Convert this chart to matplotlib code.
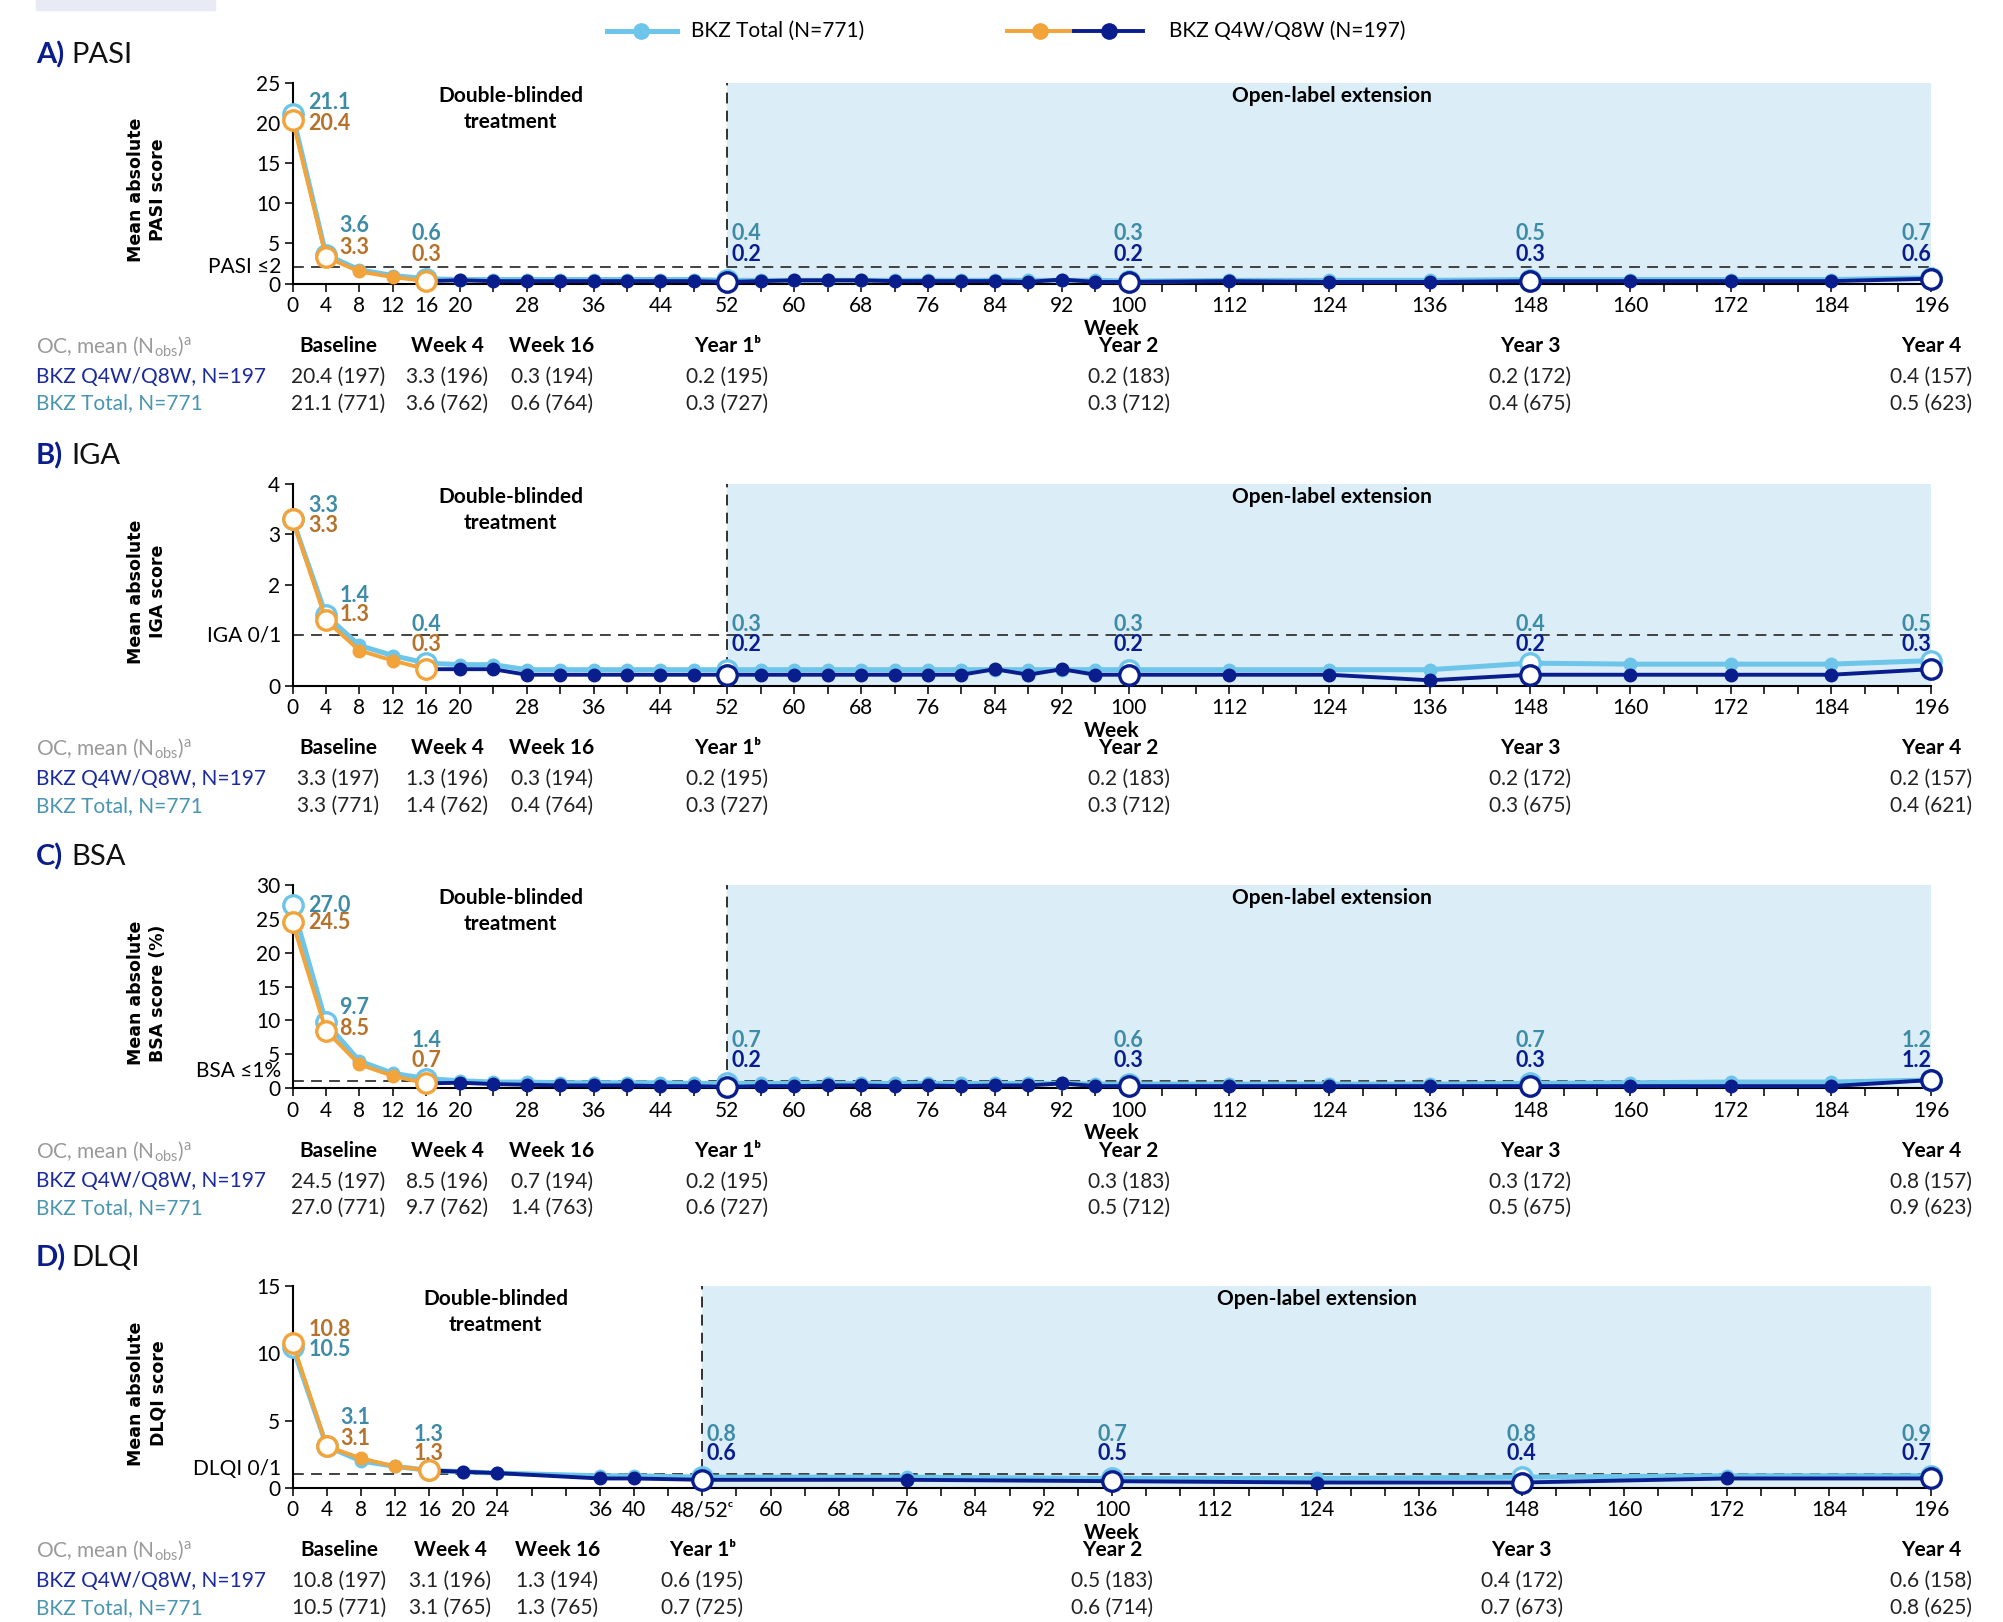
import matplotlib
matplotlib.use("Agg")
import matplotlib.pyplot as plt
from matplotlib import font_manager
from matplotlib.lines import Line2D
from matplotlib.patches import Rectangle
from matplotlib.transforms import blended_transform_factory

# layout was measured on a 1568x1270 copy of the figure
SX, SY = 1568.0, 1270.0

installed = {f.name for f in font_manager.fontManager.ttflist}
BASE = "Lato" if "Lato" in installed else "Liberation Sans"
plt.rcParams["font.family"] = [BASE, "DejaVu Sans"]
plt.rcParams["mathtext.default"] = "regular"

LIGHT = "#6ec5ea"
ORANGE = "#f2a33a"
NAVY = "#0a1d8c"
TEAL_TXT = "#3e8ba6"
ORANGE_TXT = "#b5722b"
SHADE = "#dbeef8"
ROW_NAVY = "#1b2a9c"
ROW_TEAL = "#4a95b0"

# ---------------- data ----------------
WEEKS = [0, 4, 8, 12, 16, 20, 24, 28, 32, 36, 40, 44, 48, 52, 56, 60, 64, 68, 72,
         76, 80, 84, 88, 92, 96, 100, 112, 124, 136, 148, 160, 172, 184, 196]
DLQI_WEEKS = [0, 4, 8, 12, 16, 20, 24, 36, 40, 52, 76, 100, 124, 148, 172, 196]
KEY_WEEKS = [0, 4, 16, 52, 100, 148, 196]

PASI_Q4W = [20.4, 3.3, 1.5, 0.8, 0.3, 0.4, 0.3, 0.3, 0.3, 0.3, 0.3, 0.3, 0.3, 0.2, 0.3, 0.4, 0.4,
            0.4, 0.3, 0.3, 0.3, 0.3, 0.2, 0.5, 0.2, 0.2, 0.3, 0.2, 0.2, 0.3, 0.3, 0.3, 0.3, 0.6]
PASI_TOTAL = [21.1, 3.6, 1.7, 1.0, 0.6, 0.5, 0.5, 0.5, 0.5, 0.5, 0.5, 0.5, 0.5, 0.4, 0.4, 0.4, 0.4,
              0.4, 0.4, 0.4, 0.4, 0.4, 0.4, 0.4, 0.4, 0.3, 0.4, 0.4, 0.4, 0.5, 0.5, 0.5, 0.5, 0.7]
IGA_Q4W = [3.3, 1.3, 0.7, 0.5, 0.33, 0.33, 0.33, 0.22, 0.22, 0.22, 0.22, 0.22, 0.22, 0.22, 0.22, 0.22, 0.22,
           0.22, 0.22, 0.22, 0.22, 0.33, 0.22, 0.33, 0.22, 0.22, 0.22, 0.22, 0.11, 0.22, 0.22, 0.22, 0.22, 0.33]
IGA_TOTAL = [3.3, 1.4, 0.8, 0.6, 0.45, 0.42, 0.42, 0.32, 0.32, 0.32, 0.32, 0.32, 0.32, 0.32, 0.32, 0.32, 0.32,
             0.32, 0.32, 0.32, 0.32, 0.32, 0.32, 0.32, 0.32, 0.32, 0.32, 0.32, 0.32, 0.45, 0.43, 0.43, 0.43, 0.5]
BSA_Q4W = [24.5, 8.5, 3.5, 1.8, 0.7, 0.8, 0.6, 0.5, 0.4, 0.4, 0.4, 0.3, 0.3, 0.2, 0.3, 0.3, 0.4,
           0.4, 0.3, 0.4, 0.3, 0.4, 0.4, 0.7, 0.3, 0.3, 0.3, 0.3, 0.3, 0.3, 0.3, 0.3, 0.3, 1.2]
BSA_TOTAL = [27.0, 9.7, 4.0, 2.2, 1.4, 1.1, 0.9, 0.9, 0.8, 0.8, 0.8, 0.8, 0.7, 0.7, 0.7, 0.7, 0.7,
             0.7, 0.7, 0.7, 0.7, 0.7, 0.7, 0.7, 0.6, 0.6, 0.6, 0.6, 0.6, 0.7, 0.8, 0.9, 0.9, 1.2]
DLQI_Q4W = [10.8, 3.1, 2.2, 1.6, 1.3, 1.2, 1.1, 0.7, 0.7, 0.6, 0.6, 0.5, 0.4, 0.4, 0.7, 0.7]
DLQI_TOTAL = [10.5, 3.1, 2.0, 1.6, 1.3, 1.2, 1.1, 0.9, 0.9, 0.8, 0.8, 0.7, 0.7, 0.8, 0.9, 0.9]

# value labels at KEY_WEEKS
PASI_LAB_TOT = ["21.1", "3.6", "0.6", "0.4", "0.3", "0.5", "0.7"]
PASI_LAB_Q = ["20.4", "3.3", "0.3", "0.2", "0.2", "0.3", "0.6"]
IGA_LAB_TOT = ["3.3", "1.4", "0.4", "0.3", "0.3", "0.4", "0.5"]
IGA_LAB_Q = ["3.3", "1.3", "0.3", "0.2", "0.2", "0.2", "0.3"]
BSA_LAB_TOT = ["27.0", "9.7", "1.4", "0.7", "0.6", "0.7", "1.2"]
BSA_LAB_Q = ["24.5", "8.5", "0.7", "0.2", "0.3", "0.3", "1.2"]
DLQI_LAB_TOT = ["10.5", "3.1", "1.3", "0.8", "0.7", "0.8", "0.9"]
DLQI_LAB_Q = ["10.8", "3.1", "1.3", "0.6", "0.5", "0.4", "0.7"]

# table under each panel
TABLE_HEAD = ["Baseline", "Week 4", "Week 16", "Year 1ᵇ", "Year 2", "Year 3", "Year 4"]
PASI_TAB_Q = ["20.4 (197)", "3.3 (196)", "0.3 (194)", "0.2 (195)", "0.2 (183)", "0.2 (172)", "0.4 (157)"]
PASI_TAB_T = ["21.1 (771)", "3.6 (762)", "0.6 (764)", "0.3 (727)", "0.3 (712)", "0.4 (675)", "0.5 (623)"]
IGA_TAB_Q = ["3.3 (197)", "1.3 (196)", "0.3 (194)", "0.2 (195)", "0.2 (183)", "0.2 (172)", "0.2 (157)"]
IGA_TAB_T = ["3.3 (771)", "1.4 (762)", "0.4 (764)", "0.3 (727)", "0.3 (712)", "0.3 (675)", "0.4 (621)"]
BSA_TAB_Q = ["24.5 (197)", "8.5 (196)", "0.7 (194)", "0.2 (195)", "0.3 (183)", "0.3 (172)", "0.8 (157)"]
BSA_TAB_T = ["27.0 (771)", "9.7 (762)", "1.4 (763)", "0.6 (727)", "0.5 (712)", "0.5 (675)", "0.9 (623)"]
DLQI_TAB_Q = ["10.8 (197)", "3.1 (196)", "1.3 (194)", "0.6 (195)", "0.5 (183)", "0.4 (172)", "0.6 (158)"]
DLQI_TAB_T = ["10.5 (771)", "3.1 (765)", "1.3 (765)", "0.7 (725)", "0.6 (714)", "0.7 (673)", "0.8 (625)"]

XLABEL_WEEKS = [0, 4, 8, 12, 16, 20, 28, 36, 44, 52, 60, 68, 76, 84, 92, 100,
                112, 124, 136, 148, 160, 172, 184, 196]
DLQI_XLABEL_WEEKS = [0, 4, 8, 12, 16, 20, 24, 36, 40, 52, 60, 68, 76, 84, 92, 100,
                     112, 124, 136, 148, 160, 172, 184, 196]


def fx(x):
    return x / SX


def fy(y):
    return 1 - y / SY


def plain_pos(w):
    return w


def dlqi_pos(w):
    # weeks 48 and 52 share one slot on the DLQI axis
    return w if w <= 48 else w - 4


def draw_panel(fig, top, bottom, letter, name, ylab, weeks, q4w, total, pos,
               ymax, yticks, thr, thr_label, thr_dy, xlab_weeks, lab_t, lab_q,
               fr0, fr4, frr, orange_first, tab_q, tab_t, db_x, ol_x):
    ax = fig.add_axes([fx(229), fy(bottom), (1512 - 229) / SX, (bottom - top) / SY])
    xmax = pos(196)
    xs = [pos(w) for w in weeks]
    ax.set_xlim(0, xmax)
    ax.set_ylim(0, ymax)

    # shaded open-label period and reference lines
    ax.axvspan(pos(52), xmax, color=SHADE, zorder=0, lw=0)
    ax.axvline(pos(52), color="#222222", lw=1.3, dashes=(6, 4), zorder=1)
    ax.axhline(thr, color="#333333", lw=1.3, dashes=(6, 4), zorder=1)

    key = [w in KEY_WEEKS for w in weeks]
    i16 = weeks.index(16)

    # BKZ Total
    ax.plot(xs, total, color=LIGHT, lw=3.6, zorder=3, clip_on=False)
    ax.plot([x for x, k in zip(xs, key) if not k], [v for v, k in zip(total, key) if not k],
            "o", color=LIGHT, ms=9, zorder=3, clip_on=False)
    ax.plot([x for x, k in zip(xs, key) if k], [v for v, k in zip(total, key) if k],
            "o", mfc="white", mec=LIGHT, mew=2.4, ms=14, zorder=3, clip_on=False)

    # BKZ Q4W/Q8W: navy after week 16
    nx, ny, nk = xs[i16:], q4w[i16:], key[i16:]
    ax.plot(nx, ny, color=NAVY, lw=2.8, zorder=5, clip_on=False)
    ax.plot([x for x, k in zip(nx, nk) if not k], [v for v, k in zip(ny, nk) if not k],
            "o", color=NAVY, ms=9, zorder=5, clip_on=False)
    ax.plot([x for x, k in zip(nx, nk) if k][1:], [v for v, k in zip(ny, nk) if k][1:],
            "o", mfc="white", mec=NAVY, mew=2.4, ms=14, zorder=5, clip_on=False)

    # orange up to week 16
    ox, oy, ok = xs[:i16 + 1], q4w[:i16 + 1], key[:i16 + 1]
    ax.plot(ox, oy, color=ORANGE, lw=2.8, zorder=6, clip_on=False)
    ax.plot([x for x, k in zip(ox, ok) if not k], [v for v, k in zip(oy, ok) if not k],
            "o", color=ORANGE, ms=9, zorder=6, clip_on=False)
    ax.plot([x for x, k in zip(ox, ok) if k], [v for v, k in zip(oy, ok) if k],
            "o", mfc="white", mec=ORANGE, mew=2.4, ms=14, zorder=6, clip_on=False)

    # value labels
    tr = blended_transform_factory(ax.transData, ax.transAxes)
    for i, wk in enumerate(KEY_WEEKS):
        x = pos(wk)
        if wk == 0:
            x, ha, fr = x + 1.9, "left", fr0
        elif wk == 4:
            x, ha, fr = x + 1.6, "left", fr4
        elif wk == 52:
            x, ha, fr = x + 0.5, "left", frr
        elif wk == 196:
            ha, fr = "right", frr
        else:
            ha, fr = "center", frr
        qcol = ORANGE_TXT if wk <= 16 else NAVY
        if wk == 0 and orange_first:
            first, second = (lab_q[i], qcol), (lab_t[i], TEAL_TXT)
        else:
            first, second = (lab_t[i], TEAL_TXT), (lab_q[i], qcol)
        ax.text(x, fr[0], first[0], color=first[1], ha=ha, va="center", fontsize=15.5,
                fontweight="bold", transform=tr, zorder=8)
        ax.text(x, fr[1], second[0], color=second[1], ha=ha, va="center", fontsize=15.5,
                fontweight="bold", transform=tr, zorder=8)

    # period annotations
    ax.text(db_x, 0.985, "Double-blinded\ntreatment", ha="center", va="top", fontsize=15,
            fontweight="bold", linespacing=1.35, transform=tr, zorder=8)
    ax.text(ol_x, 0.985, "Open-label extension", ha="center", va="top", fontsize=15,
            fontweight="bold", transform=tr, zorder=8)

    # axes styling
    for s in ["top", "right"]:
        ax.spines[s].set_visible(False)
    for s in ["left", "bottom"]:
        ax.spines[s].set_linewidth(1.5)
        ax.spines[s].set_zorder(2)
    ticks = list(range(0, int(xmax) + 1, 4))
    lab_pos = {pos(w): w for w in xlab_weeks}
    labels = []
    for t in ticks:
        if t in lab_pos:
            w = lab_pos[t]
            labels.append("48/52ᶜ" if (pos is dlqi_pos and w == 52) else str(w))
        else:
            labels.append("")
    ax.set_xticks(ticks)
    ax.set_xticklabels(labels)
    ax.set_yticks(yticks)
    ax.tick_params(axis="both", labelsize=15, length=6, width=1.3, pad=3, color="#222222")
    ax.set_xlabel("Week", fontsize=15, fontweight="bold", labelpad=2)

    ytr = blended_transform_factory(ax.transAxes, ax.transData)
    ax.text(-0.007, thr + thr_dy, thr_label, ha="right", va="center", fontsize=15, transform=ytr)

    # titles and y label
    fig.text(fx(28), fy(top - 22), letter, color=NAVY, fontsize=21, fontweight="bold", va="center")
    fig.text(fx(56), fy(top - 22), name, color="#111111", fontsize=21, va="center")
    fig.text(fx(115), fy((top + bottom) / 2 + 5), ylab, rotation=90, ha="center", va="center",
             family="DejaVu Sans", fontweight="bold", fontsize=12.5, linespacing=1.3)

    # summary table
    ttr = blended_transform_factory(ax.transData, fig.transFigure)
    cols = [5.5, 18.5, 31.0, pos(52), pos(100), pos(148), pos(196)]
    fig.text(fx(28), fy(bottom + 49), r"OC, mean (N$_{obs}$)$^{a}$", color="#9a9a9a",
             fontsize=15, va="center")
    fig.text(fx(28), fy(bottom + 73), "BKZ Q4W/Q8W, N=197", color=ROW_NAVY, fontsize=15, va="center")
    fig.text(fx(28), fy(bottom + 94), "BKZ Total, N=771", color=ROW_TEAL, fontsize=15, va="center")
    for c, h, q, t in zip(cols, TABLE_HEAD, tab_q, tab_t):
        fig.text(c, fy(bottom + 49), h, ha="center", va="center", fontsize=15,
                 fontweight="bold", transform=ttr)
        fig.text(c, fy(bottom + 73), q, ha="center", va="center", fontsize=15,
                 color="#222222", transform=ttr)
        fig.text(c, fy(bottom + 94), t, ha="center", va="center", fontsize=15,
                 color="#222222", transform=ttr)
    return ax


fig = plt.figure(figsize=(20.03, 16.22), dpi=100)

# small tab in the corner
fig.patches.append(Rectangle((fx(28), fy(8)), fx(168) - fx(28), 1 - fy(8),
                             transform=fig.transFigure, color="#e8eaf6", zorder=0))

# legend
ly = fy(24)
fig.add_artist(Line2D([fx(475), fx(530)], [ly, ly], color=LIGHT, lw=3.6, transform=fig.transFigure))
fig.add_artist(Line2D([fx(502)], [ly], marker="o", ms=11, color=LIGHT, transform=fig.transFigure))
fig.text(fx(541), ly, "BKZ Total (N=771)", fontsize=15, va="center")
fig.add_artist(Line2D([fx(788), fx(841)], [ly, ly], color=ORANGE, lw=2.8, transform=fig.transFigure))
fig.add_artist(Line2D([fx(841), fx(895)], [ly, ly], color=NAVY, lw=2.8, transform=fig.transFigure))
fig.add_artist(Line2D([fx(814)], [ly], marker="o", ms=11, color=ORANGE, transform=fig.transFigure))
fig.add_artist(Line2D([fx(868)], [ly], marker="o", ms=11, color=NAVY, transform=fig.transFigure))
fig.text(fx(915), ly, "BKZ Q4W/Q8W (N=197)", fontsize=15, va="center")

draw_panel(fig, 65, 222, "A)", "PASI", "Mean absolute\nPASI score", WEEKS, PASI_Q4W, PASI_TOTAL,
           plain_pos, 25, [0, 5, 10, 15, 20, 25], 2, "PASI ≤2", 0, XLABEL_WEEKS,
           PASI_LAB_TOT, PASI_LAB_Q, (0.904, 0.796), (0.287, 0.178), (0.248, 0.146), False,
           PASI_TAB_Q, PASI_TAB_T, 26.1, 124.3)
draw_panel(fig, 379, 537, "B)", "IGA", "Mean absolute\nIGA score", WEEKS, IGA_Q4W, IGA_TOTAL,
           plain_pos, 4, [0, 2, 3, 4], 1, "IGA 0/1", 0, XLABEL_WEEKS,
           IGA_LAB_TOT, IGA_LAB_Q, (0.892, 0.797), (0.449, 0.354), (0.304, 0.203), False,
           IGA_TAB_Q, IGA_TAB_T, 26.1, 124.3)
draw_panel(fig, 693, 852, "C)", "BSA", "Mean absolute\nBSA score (%)", WEEKS, BSA_Q4W, BSA_TOTAL,
           plain_pos, 30, [0, 5, 10, 15, 20, 25, 30], 1, "BSA ≤1%", 1.5, XLABEL_WEEKS,
           BSA_LAB_TOT, BSA_LAB_Q, (0.899, 0.818), (0.396, 0.296), (0.233, 0.138), False,
           BSA_TAB_Q, BSA_TAB_T, 26.1, 124.3)
draw_panel(fig, 1007, 1165, "D)", "DLQI", "Mean absolute\nDLQI score", DLQI_WEEKS, DLQI_Q4W, DLQI_TOTAL,
           dlqi_pos, 15, [0, 5, 10, 15], 1, "DLQI 0/1", 0.4, DLQI_XLABEL_WEEKS,
           DLQI_LAB_TOT, DLQI_LAB_Q, (0.785, 0.684), (0.348, 0.247), (0.266, 0.171), True,
           DLQI_TAB_Q, DLQI_TAB_T, 23.8, 120.0)

fig.savefig("out.png", dpi=100)
